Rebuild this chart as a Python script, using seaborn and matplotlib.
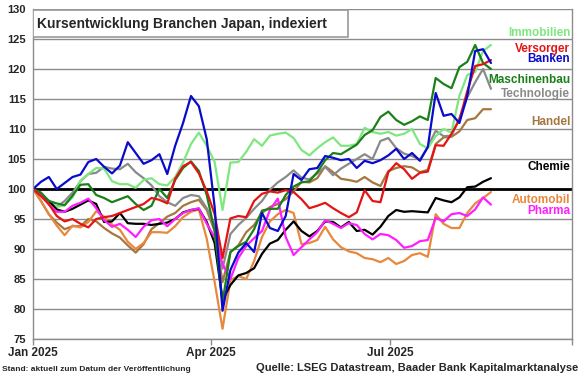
import numpy as np
import pandas as pd
import seaborn as sns
import matplotlib.pyplot as plt
import matplotlib.dates as mdates
from matplotlib.patches import Rectangle

# values, one point every 4 calendar days from 1 Jan 2025
dates = pd.date_range("2025-01-01", periods=59, freq="4D")

immobilien = [100, 99, 98, 97, 97.3, 98.6, 101.4, 102.5, 103.5, 103.4, 101.3, 100.8, 100.8, 100.2, 101.5,
              101.8, 100.8, 100.6, 102, 104.4, 107.5, 109.4, 107.2, 104.5, 96.5, 104.4, 104.5, 106.2, 108.3,
              107.2, 108.9, 109.2, 109.4, 108.5, 106.5, 105.6, 106.8, 107.8, 108.6, 107.2, 107.2, 107.5, 110.2,
              109.5, 109.2, 109.5, 108.9, 109.2, 110, 107.5, 106.8, 108.8, 110, 109.4, 115.5, 119, 119.5, 123, 124]
versorger = [100, 98.8, 97.5, 95.5, 94.6, 95, 94.2, 93.6, 95, 95.3, 95.5, 96, 96.5, 97, 97.5,
             98.5, 98.2, 97.6, 101.7, 103.8, 104.5, 102.6, 99.6, 95.8, 88.5, 95.1, 95.5, 95.3, 98,
             99.2, 99.6, 99.4, 99.8, 99.5, 98.3, 96.8, 97.2, 97.7, 96.8, 96, 95.3, 96.1, 99.8,
             98, 97.8, 102.8, 104.3, 103.3, 101.7, 102.7, 102.9, 107.3, 107.2, 109.2, 111.5, 116.3, 120.5, 120.8, 121.5]
banken = [100, 101.2, 102, 100, 101, 102, 102.4, 104.5, 105, 103.7, 102.6, 103.9, 107.8, 106, 104.2,
          104.8, 105.8, 102.5, 107.2, 111, 115.5, 113.8, 108.3, 97, 79.7, 86.5, 89.4, 91, 89.5,
          96, 93.5, 93, 95.5, 102.5, 101.5, 103.3, 103.5, 105.5, 105.2, 104.8, 105, 103.5, 104.7,
          104.3, 104.8, 105.6, 106.7, 105, 106, 104.7, 107, 116, 112.2, 112.5, 111, 115.5, 123, 123.3, 121]
maschinenbau = [100, 99.4, 98, 97.6, 97.3, 98.9, 100.7, 100.8, 99, 98.5, 97.8, 98.3, 98.8, 97.5, 96.5,
                97.2, 100, 98.5, 101.5, 103.5, 104.6, 103, 99, 93, 81.1, 89.5, 90.5, 91.2, 93.3,
                96.4, 96.7, 96.7, 99, 100.4, 101.1, 101.3, 102.8, 104.8, 106, 105.8, 106.6, 107.4, 109,
                109.8, 112, 112.9, 111.5, 110.7, 111.3, 112.1, 111.5, 118.5, 117.5, 116.8, 120.3, 121.2, 124, 121, 120]
technologie = [100, 99, 98, 97, 98, 99.4, 101.3, 102.5, 102.7, 103.7, 103.4, 103.3, 104.2, 102.8, 101.8,
               100.6, 98.8, 97.8, 97.2, 98.5, 99, 98.8, 96.8, 94, 86.7, 92.5, 94, 95.2, 96.7,
               98, 99.9, 101.1, 102, 103.1, 101.9, 101.6, 102.6, 103.7, 102.3, 103.4, 104.2, 105, 105.8,
               105, 108, 108.5, 106.8, 105.9, 105.5, 104.9, 107, 109.7, 108.8, 108.9, 111.8, 115.3, 117.8, 120, 116.7]
handel = [100, 98, 95.8, 94.4, 93.3, 93.8, 93.8, 95, 94.6, 93.5, 92.6, 91.9, 90.6, 89.4, 90.8,
          93.3, 94.3, 95.4, 96, 97.2, 97.8, 98.2, 96.5, 93, 84.5, 89.5, 90.6, 92.8, 94,
          96, 97, 97.5, 98.3, 99.6, 101.2, 101.1, 101.8, 103.8, 102.8, 101.7, 101.5, 101.2, 102,
          101.1, 100.5, 103, 103.5, 103.8, 103.6, 102.8, 103.2, 107.5, 108.6, 108.7, 109.6, 111.5, 111.8, 113.3, 113.3]
chemie = [100, 99, 98, 96.6, 96.2, 96.7, 97.4, 98.1, 97.5, 94.5, 94.6, 96, 94.3, 94.2, 94.2,
          94, 94.2, 94.4, 95, 96.1, 96.5, 96.7, 94.5, 91, 81.5, 84, 85.6, 86, 86.8,
          89.2, 90.9, 91.5, 93.2, 94.6, 93, 92.1, 93, 94.6, 94.5, 93.6, 94.5, 93, 93.2,
          92.4, 93.7, 95.5, 96.5, 96.2, 96.3, 96.2, 96.1, 98.5, 98.1, 97.8, 98.6, 100.3, 100.4, 101.2, 101.8]
automobil = [100, 98, 95.8, 93.9, 92.3, 93.9, 93.6, 94.5, 96.3, 95.4, 94.1, 93.2, 91.2, 90, 91,
             92.8, 92.8, 92.7, 93.8, 95.3, 96.2, 96.6, 91.7, 84.5, 76.7, 84.8, 85.5, 85, 88,
             92, 94.6, 95.8, 96.5, 96, 90.8, 91, 91.5, 93.7, 91.6, 90.3, 89.6, 89.3, 88.5,
             88.3, 87.8, 88.5, 87.5, 88, 89, 89.3, 88.7, 95.8, 94.2, 93.5, 93.5, 96, 97.6, 98.5, 99.5]
pharma = [100, 99, 97.4, 96.2, 96.2, 97.2, 97.7, 98.4, 96.8, 94.8, 93.7, 94.2, 93.2, 92, 93.7,
          94.8, 95, 93.8, 95, 96, 96.5, 96.8, 94.2, 92, 87.5, 85, 88.5, 90.5, 91.8,
          93, 96.5, 98.4, 92, 89, 90.3, 91.6, 92.8, 94.8, 94.2, 93.5, 94.3, 94, 92.5,
          91.6, 92.5, 92.3, 91.5, 90.2, 90.5, 91.3, 91.5, 95.2, 94.6, 95.8, 96, 95.5, 96.6, 98.6, 97.4]

series_names = ["Handel", "Automobil", "Technologie", "Immobilien", "Chemie",
                "Pharma", "Maschinenbau", "Versorger", "Banken"]
series_values = [handel, automobil, technologie, immobilien, chemie,
                 pharma, maschinenbau, versorger, banken]

colors = {
    "Immobilien": "#7FE77F",
    "Versorger": "#E41414",
    "Banken": "#0A0ACC",
    "Maschinenbau": "#1A801A",
    "Technologie": "#8A8A8A",
    "Handel": "#A5773F",
    "Chemie": "#000000",
    "Automobil": "#E8883C",
    "Pharma": "#FF1EFF",
}

# right-hand labels: name and the y value where it sits
label_names = ["Immobilien", "Versorger", "Banken", "Maschinenbau", "Technologie",
               "Handel", "Chemie", "Automobil", "Pharma"]
label_y = [126, 123.4, 121.6, 118.2, 115.8, 111.2, 103.7, 98.2, 96.3]

y_ticks = list(range(75, 131, 5))
x_ticks = pd.to_datetime(["2025-01-01", "2025-04-01", "2025-07-01", "2025-10-01"])
x_ticklabels = ["Jan 2025", "Apr 2025", "Jul 2025", ""]

df = pd.DataFrame({name: vals for name, vals in zip(series_names, series_values)}, index=dates)
df.index.name = "date"
long_df = df.reset_index().melt(id_vars="date", var_name="branche", value_name="index")

sns.set_style("white")
plt.rcParams["font.family"] = ["Liberation Sans", "DejaVu Sans"]
plt.rcParams["font.weight"] = "bold"

fig = plt.figure(figsize=(5.8, 3.75), dpi=100)
ax = fig.add_axes([0.057, 0.096, 0.929, 0.88])

ax.set_ylim(75, 130)
ax.set_xlim(pd.Timestamp("2025-01-01"), pd.Timestamp("2025-10-01"))
ax.set_yticks(y_ticks)
for v in y_ticks:
    ax.axhline(v, color="#8c8c8c", lw=1.0, zorder=0)
ax.axhline(100, color="black", lw=2.0, zorder=1)

sns.lineplot(
    data=long_df,
    x="date",
    y="index",
    hue="branche",
    hue_order=series_names,
    palette=colors,
    linewidth=1.6,
    legend=False,
    ax=ax,
)

ax.set_xticks(x_ticks)
ax.set_xticklabels(x_ticklabels)
ax.set_xlabel("")
ax.set_ylabel("")
ax.tick_params(axis="y", length=0, pad=5, labelsize=8)
ax.tick_params(axis="x", length=4, width=1, color="#8c8c8c", pad=2, labelsize=8.5, bottom=True)
for lab in ax.get_xticklabels() + ax.get_yticklabels():
    lab.set_fontweight("bold")

for side in ["left", "bottom", "right"]:
    ax.spines[side].set_color("#8c8c8c")
    ax.spines[side].set_linewidth(1.0)
ax.spines["top"].set_visible(False)

# title box
ax.add_patch(Rectangle((0.0, 0.915), 0.585, 0.082, transform=ax.transAxes,
                       facecolor="white", edgecolor="#9a9a9a", lw=1.2, zorder=5))
ax.text(0.008, 0.956, "Kursentwicklung Branchen Japan, indexiert", transform=ax.transAxes,
        fontsize=10, fontweight="bold", ha="left", va="center", zorder=6)

for name, yv in zip(label_names, label_y):
    ax.text(0.997, yv, name, transform=ax.get_yaxis_transform(), ha="right", va="center",
            fontsize=8.5, fontweight="bold", color=colors[name], zorder=6)

fig.text(0.003, 0.006, "Stand: aktuell zum Datum der Veröffentlichung", fontsize=6,
         fontweight="bold", ha="left", va="bottom")
fig.text(0.997, 0.005, "Quelle: LSEG Datastream, Baader Bank Kapitalmarktanalyse", fontsize=8,
         fontweight="bold", ha="right", va="bottom")

fig.savefig("out.png", dpi=100)
